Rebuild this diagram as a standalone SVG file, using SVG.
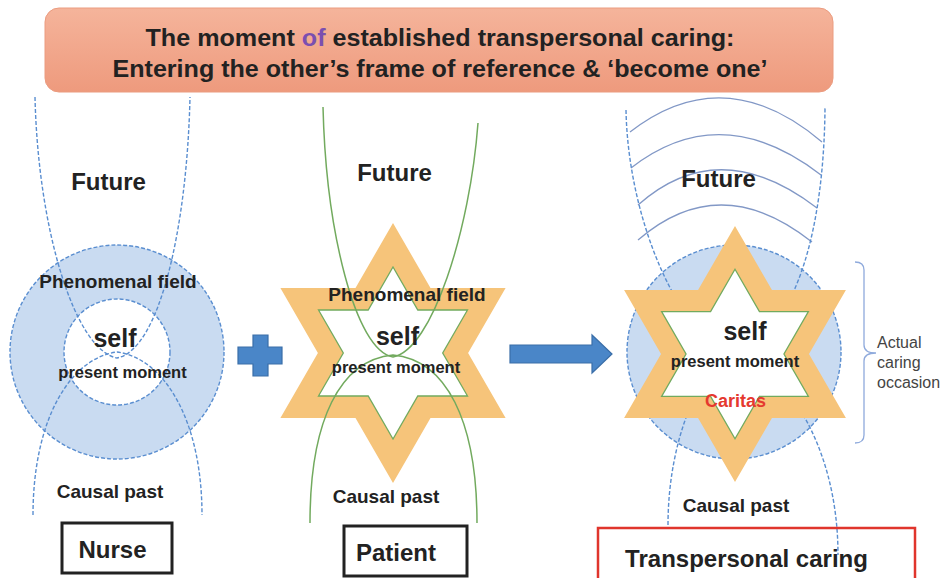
<svg xmlns="http://www.w3.org/2000/svg" xmlns:xlink="http://www.w3.org/1999/xlink" width="945" height="578" viewBox="0 0 945 578">
<defs>
  <linearGradient id="titleGrad" x1="0" y1="0" x2="0" y2="1">
    <stop offset="0" stop-color="#f5b49b"/>
    <stop offset="1" stop-color="#ee9a7d"/>
  </linearGradient>
  <path id="starBand" fill-rule="evenodd" d="M0,-130 L37.5,-65 L112.6,-65 L75.1,0 L112.6,65 L37.5,65 L0,130 L-37.5,65 L-112.6,65 L-75.1,0 L-112.6,-65 L-37.5,-65 Z M0,-86 L24.8,-43 L74.5,-43 L49.7,0 L74.5,43 L24.8,43 L0,86 L-24.8,43 L-74.5,43 L-49.7,0 L-74.5,-43 L-24.8,-43 Z"/>
  <path id="starInner" d="M0,-86 L24.8,-43 L74.5,-43 L49.7,0 L74.5,43 L24.8,43 L0,86 L-24.8,43 L-74.5,43 L-49.7,0 L-74.5,-43 L-24.8,-43 Z"/>
</defs>
<style>
  text { font-family: "Liberation Sans", Arial, sans-serif; font-weight: bold; fill: #222; }
  .title { font-size: 23px; text-anchor: middle; }
  .fut { font-size: 24px; text-anchor: middle; }
  .phen { font-size: 19px; text-anchor: middle; }
  .self { font-size: 25px; text-anchor: middle; }
  .pm { font-size: 16.5px; text-anchor: middle; }
  .past { font-size: 19px; text-anchor: middle; }
  .lab { font-size: 24px; text-anchor: middle; }
  .note { font-size: 16px; font-weight: normal; fill: #444; }
  .dash { fill: none; stroke: #5a8ed0; stroke-width: 1.4; stroke-dasharray: 4 2; }
  .green { fill: none; stroke: #72aa5e; stroke-width: 1.5; }
  .arc { fill: none; stroke: #8298c6; stroke-width: 1.3; }
  .ring { fill: #c9dbf1; stroke: #5a8ed0; stroke-width: 1.4; stroke-dasharray: 4 2; }
  .band { fill: #f6c47a; }
  .inner { fill: #ffffff; stroke: #72aa5e; stroke-width: 1.3; }
  .box { fill: #ffffff; stroke: #222; stroke-width: 3; }
  .bluesym { fill: #4a86c8; stroke: #3a6ea8; stroke-width: 1.2; }
</style>

<g id="title">
  <rect x="45" y="8" width="788" height="84" rx="14" fill="url(#titleGrad)" stroke="#eb9c80" stroke-width="1"/>
  <text class="title" x="440" y="46" textLength="589" lengthAdjust="spacingAndGlyphs">The moment <tspan fill="#7b4fb0">of</tspan> established transpersonal caring:</text>
  <text class="title" x="440" y="77" textLength="655" lengthAdjust="spacingAndGlyphs">Entering the other’s frame of reference &amp; ‘become one’</text>
</g>

<g id="nurse">
  <circle class="ring" cx="117" cy="352" r="107"/>
  <circle class="ring" cx="117" cy="352" r="53" style="fill:#ffffff"/>
  <path class="dash" d="M35,97 C38,230 75,350 117,358 C159,350 187,230 190,97"/>
  <path class="dash" d="M33,515 C33,420 70,358 117,352 C164,358 202,420 202,515"/>
  <text class="fut" x="108.5" y="190">Future</text>
  <text class="phen" x="118" y="288">Phenomenal field</text>
  <text class="self" x="115" y="347">self</text>
  <text class="pm" x="122.5" y="378">present moment</text>
  <text class="past" x="110" y="498">Causal past</text>
  <rect class="box" x="62" y="523" width="110" height="50"/>
  <text class="lab" x="112.5" y="558">Nurse</text>
</g>

<g id="plus">
  <path class="bluesym" d="M253,335 L268,335 L268,347 L282,347 L282,364 L268,364 L268,376 L253,376 L253,364 L238,364 L238,347 L253,347 Z"/>
</g>

<g id="patient">
  <use href="#starBand" xlink:href="#starBand" class="band" transform="translate(393,353)"/>
  <use href="#starInner" xlink:href="#starInner" class="inner" transform="translate(393,353)"/>
  <path class="green" d="M323,107 C326,230 355,350 393,357 C432,350 470,230 478,123"/>
  <path class="green" d="M310,523 C310,420 340,360 393,355 C446,360 477,420 477,523"/>
  <text class="fut" x="394.5" y="181">Future</text>
  <text class="phen" x="407" y="301">Phenomenal field</text>
  <text class="self" x="397.5" y="345">self</text>
  <text class="pm" x="396" y="373">present moment</text>
  <text class="past" x="386" y="503">Causal past</text>
  <rect class="box" x="344" y="526" width="123" height="50"/>
  <text class="lab" x="396" y="561">Patient</text>
</g>

<g id="arrow">
  <path class="bluesym" d="M510,345 L592,345 L592,335 L612,354 L592,373 L592,363 L510,363 Z"/>
</g>

<g id="transpersonal">
  <path class="arc" d="M630,132 Q724,59 822,142"/>
  <path class="arc" d="M631,168 Q721,98 821,175"/>
  <path class="arc" d="M638,205 Q719,133 817,208"/>
  <path class="arc" d="M638,240 Q720,169 812,242"/>
  <circle class="ring" cx="734" cy="352" r="107"/>
  <path class="dash" d="M626,110 C628,220 680,340 735,355 C800,330 824,220 825,108"/>
  <path class="dash" d="M668,525 C668,440 700,365 735,352 C780,365 838,440 838,555"/>
  <use href="#starBand" xlink:href="#starBand" class="band" transform="translate(735,354) scale(0.985)"/>
  <use href="#starInner" xlink:href="#starInner" class="inner" transform="translate(735,354) scale(0.985)"/>
  <text class="fut" x="718.5" y="187">Future</text>
  <text class="self" x="745" y="340">self</text>
  <text class="pm" x="735" y="367">present moment</text>
  <text class="phen" x="735.5" y="407" style="font-size:18px; fill:#e5392f">Caritas</text>
  <text class="past" x="736" y="512">Causal past</text>
  <rect x="598" y="528" width="317" height="56" fill="none" stroke="#e0352c" stroke-width="2.5"/>
  <text class="lab" x="746.5" y="567">Transpersonal caring</text>
</g>

<g id="occasion">
  <path d="M855,262 Q864,262 864,270 L864,345 Q864,353 876,353 Q864,353 864,361 L864,435 Q864,443 855,443" fill="none" stroke="#8faadc" stroke-width="1.3"/>
  <text class="note" x="877" y="348">Actual</text>
  <text class="note" x="877" y="368">caring</text>
  <text class="note" x="877" y="388">occasion</text>
</g>
</svg>
